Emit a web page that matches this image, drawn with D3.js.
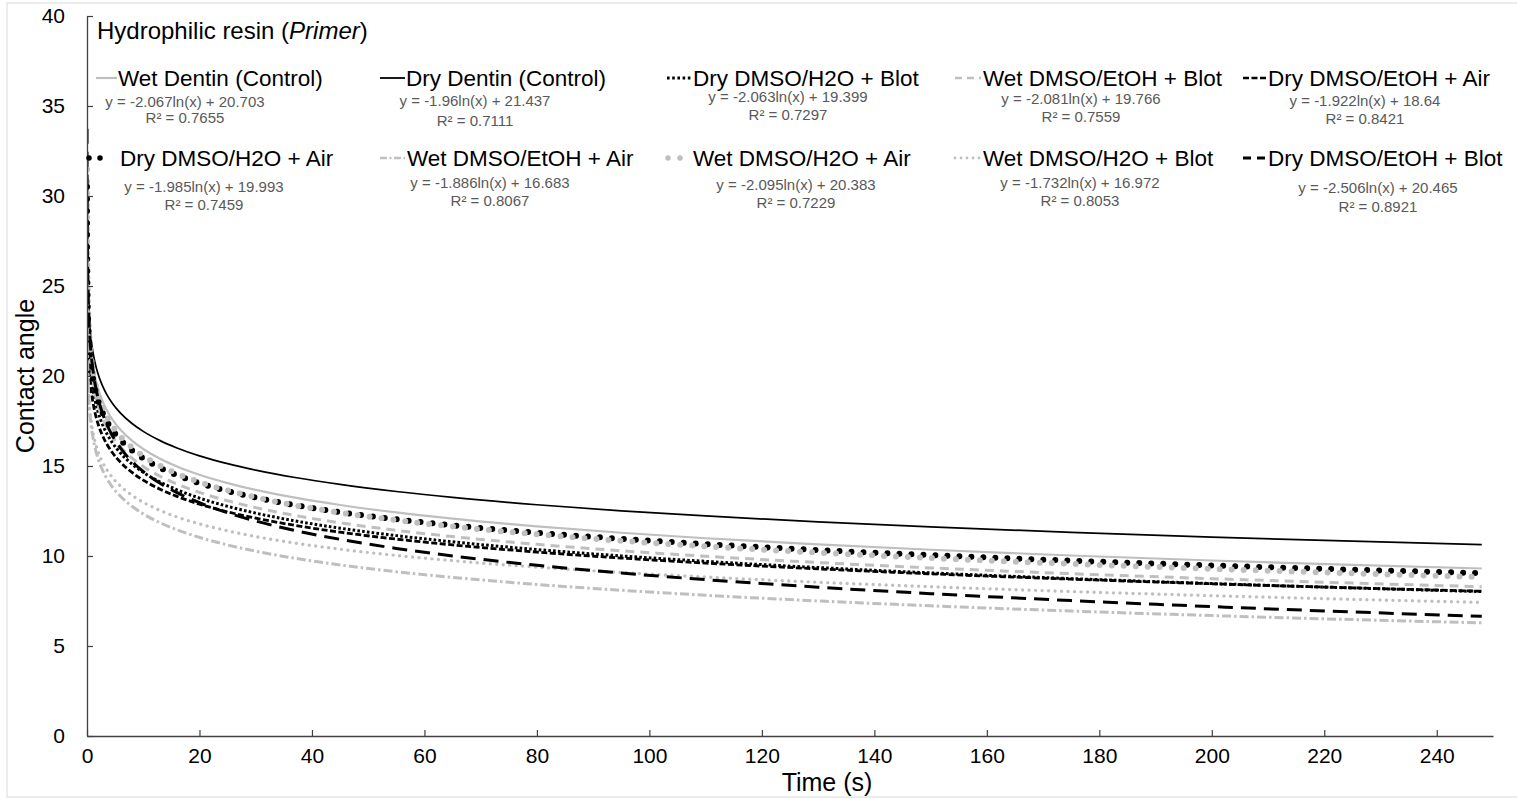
<!DOCTYPE html>
<html>
<head>
<meta charset="utf-8">
<script src="https://cdn.jsdelivr.net/npm/d3@7"></script>
<style>
  html, body { margin: 0; padding: 0; background: #ffffff; }
  svg { display: block; font-family: "Liberation Sans", Arial, sans-serif; }
</style>
</head>
<body>
<svg id="chart" width="1517" height="799"></svg>
<script>
// ---------------- DATA ----------------
const seriesNames = [
  "Wet Dentin (Control)", "Dry Dentin (Control)", "Dry DMSO/H2O + Blot",
  "Wet DMSO/EtOH + Blot", "Dry DMSO/EtOH + Air", "Dry DMSO/H2O + Air",
  "Wet DMSO/EtOH + Air", "Wet DMSO/H2O + Air", "Wet DMSO/H2O + Blot",
  "Dry DMSO/EtOH + Blot"
];
// logarithmic trendlines y = a ln(x) + b, as printed on the chart
const slopes     = [-2.067, -1.96, -2.063, -2.081, -1.922, -1.985, -1.886, -2.095, -1.732, -2.506];
const intercepts = [20.703, 21.437, 19.399, 19.766, 18.64, 19.993, 16.683, 20.383, 16.972, 20.465];
const equationLabels = [
  "y = -2.067ln(x)  + 20.703", "y = -1.96ln(x) + 21.437", "y = -2.063ln(x) + 19.399",
  "y = -2.081ln(x) + 19.766", "y = -1.922ln(x) + 18.64", "y = -1.985ln(x) + 19.993",
  "y = -1.886ln(x) + 16.683", "y = -2.095ln(x) + 20.383", "y = -1.732ln(x) + 16.972",
  "y = -2.506ln(x) + 20.465"
];
const rSquaredLabels = ["R² = 0.7655", "R² = 0.7111", "R² = 0.7297", "R² = 0.7559", "R² = 0.8421",
                        "R² = 0.7459", "R² = 0.8067", "R² = 0.7229", "R² = 0.8053", "R² = 0.8921"];
// time points (s) at which the trendlines are evaluated, spanning the data range
const timeSamples = [0.005, 0.008, 0.012, 0.02, 0.03, 0.05, 0.075, 0.1, 0.15, 0.2, 0.3, 0.4, 0.55, 0.75,
  1, 1.4, 2, 2.7, 3.5, 4.5, 6, 8, 10, 13, 16, 20, 25, 30, 37, 45, 55, 65, 80, 95, 110, 130,
  150, 175, 200, 225, 248];
const xTicks = [0, 20, 40, 60, 80, 100, 120, 140, 160, 180, 200, 220, 240];
const yTicks = [0, 5, 10, 15, 20, 25, 30, 35, 40];
const chartTitle = "Hydrophilic resin (";
const chartTitleItalic = "Primer";
const xTitle = "Time (s)";
const yTitle = "Contact angle";

// ---------------- STYLES / LAYOUT ----------------
const GRAY = "#bfbfbf", BLACK = "#000000";
const styles = [
  { c: GRAY,  w: 2.2, d: null,        cap: "butt",  lw: 2.2, ld: null },
  { c: BLACK, w: 1.7, d: null,        cap: "butt",  lw: 1.8, ld: null },
  { c: BLACK, w: 3,   d: "2.6,2.2",   cap: "butt",  lw: 2.8, ld: "2.6,2.6" },
  { c: GRAY,  w: 3,   d: "9,6",       cap: "butt",  lw: 2.6, ld: "7,5" },
  { c: BLACK, w: 2.8, d: "6,2.5",     cap: "butt",  lw: 2.4, ld: "6,2.5" },
  { c: BLACK, w: 6,   d: "0,12",      cap: "round", lw: 5.5, ld: "0,11" },
  { c: GRAY,  w: 3,   d: "9,3,2.5,3", cap: "butt",  lw: 2.4, ld: "7,2.5,2,2.5" },
  { c: GRAY,  w: 6,   d: "0,12",      cap: "round", lw: 5.5, ld: "0,12" },
  { c: GRAY,  w: 3.4, d: "0,6.5",     cap: "round", lw: 2.8, ld: "0,6" },
  { c: BLACK, w: 3,   d: "15,8",      cap: "butt",  lw: 2.8, ld: "8,6" }
];
// legend layout: label start x, label baseline, symbol x0/x1, equation center x, eq baseline, R² baseline
const legendLayout = [
  { tx: 118, ty: 86,  s0: 96,  s1: 117, ex: 185,  ey: 107, ry: 123 },
  { tx: 406, ty: 86,  s0: 380, s1: 405, ex: 475,  ey: 106, ry: 126 },
  { tx: 693, ty: 86,  s0: 667, s1: 691, ex: 788,  ey: 102, ry: 120 },
  { tx: 983, ty: 86,  s0: 955, s1: 981, ex: 1081, ey: 104, ry: 122 },
  { tx: 1268, ty: 86, s0: 1243, s1: 1267, ex: 1365, ey: 106, ry: 124 },
  { tx: 120, ty: 166, s0: 89,  s1: 104, ex: 204,  ey: 192, ry: 210 },
  { tx: 407, ty: 166, s0: 380, s1: 405, ex: 490,  ey: 188, ry: 206 },
  { tx: 693, ty: 166, s0: 668, s1: 683, ex: 796,  ey: 190, ry: 208 },
  { tx: 983, ty: 166, s0: 955, s1: 981, ex: 1080, ey: 188, ry: 206 },
  { tx: 1268, ty: 166, s0: 1243, s1: 1266, ex: 1378, ey: 193, ry: 212 }
];

const svg = d3.select("#chart");
const X0 = 87, X1 = 1493, Y0 = 736, Y1 = 16;
const x = d3.scaleLinear().domain([0, 250]).range([X0, X1]);
const y = d3.scaleLinear().domain([0, 40]).range([Y0, Y1]);

// outer chart border
svg.append("rect").attr("x", 7).attr("y", 3).attr("width", 1540).attr("height", 794)
  .attr("fill", "none").attr("stroke", "#d9d9d9").attr("stroke-width", 1);

// clip to plot area
svg.append("clipPath").attr("id", "plotclip").append("rect")
  .attr("x", X0).attr("y", Y1 - 2).attr("width", X1 - X0).attr("height", Y0 - Y1 + 2);

// series
const line = d3.line().x(d => x(d.t)).y(d => y(d.v)).curve(d3.curveMonotoneX);
const gSeries = svg.append("g").attr("clip-path", "url(#plotclip)");
seriesNames.forEach((name, i) => {
  const pts = timeSamples.map(t => ({ t: t, v: slopes[i] * Math.log(t) + intercepts[i] }));
  const st = styles[i];
  gSeries.append("path").datum(pts)
    .attr("d", line)
    .attr("fill", "none")
    .attr("stroke", st.c)
    .attr("stroke-width", st.w)
    .attr("stroke-linecap", st.cap)
    .attr("stroke-dasharray", st.d);
});

// axes
const axisColor = "#404040";
const gx = svg.append("g").attr("transform", `translate(0,${Y0})`)
  .call(d3.axisBottom(x).tickValues(xTicks).tickSize(-6).tickPadding(14).tickSizeOuter(0));
gx.select(".domain").attr("stroke", axisColor).attr("stroke-width", 1.3);
gx.selectAll(".tick line").attr("stroke", axisColor).attr("stroke-width", 1.2);
gx.selectAll(".tick text").attr("font-size", "21px").attr("fill", "#000")
  .attr("font-family", "Liberation Sans, Arial, sans-serif").attr("dy", "0.71em").attr("y", 12);

const gy = svg.append("g").attr("transform", `translate(${X0},0)`)
  .call(d3.axisLeft(y).tickValues(yTicks).tickSize(-6).tickPadding(22).tickSizeOuter(0));
gy.select(".domain").attr("stroke", axisColor).attr("stroke-width", 1.3);
gy.selectAll(".tick line").attr("stroke", axisColor).attr("stroke-width", 1.2);
gy.selectAll(".tick text").attr("font-size", "21px").attr("fill", "#000")
  .attr("font-family", "Liberation Sans, Arial, sans-serif");

// axis titles
svg.append("text").attr("x", 827).attr("y", 791).attr("text-anchor", "middle")
  .attr("font-size", "25px").attr("fill", "#000").text(xTitle);
svg.append("text").attr("transform", "translate(34,376) rotate(-90)")
  .attr("text-anchor", "middle").attr("font-size", "25px").attr("fill", "#000").text(yTitle);

// chart title
const tt = svg.append("text").attr("x", 97).attr("y", 39).attr("font-size", "24px").attr("fill", "#000");
tt.append("tspan").text(chartTitle);
tt.append("tspan").attr("font-style", "italic").text(chartTitleItalic);
tt.append("tspan").text(")");

// legend + trendline labels
seriesNames.forEach((name, i) => {
  const L = legendLayout[i], st = styles[i];
  svg.append("line").attr("x1", L.s0).attr("x2", L.s1).attr("y1", L.ty - 8).attr("y2", L.ty - 8)
    .attr("stroke", st.c).attr("stroke-width", st.lw)
    .attr("stroke-linecap", st.cap).attr("stroke-dasharray", st.ld);
  svg.append("text").attr("x", L.tx).attr("y", L.ty).attr("font-size", "22.5px")
    .attr("fill", "#000").text(name);
  svg.append("text").attr("x", L.ex).attr("y", L.ey).attr("text-anchor", "middle")
    .attr("font-size", "15px").attr("fill", "#595959").text(equationLabels[i]);
  svg.append("text").attr("x", L.ex).attr("y", L.ry).attr("text-anchor", "middle")
    .attr("font-size", "15px").attr("fill", "#595959").text(rSquaredLabels[i]);
});
</script>
</body>
</html>
